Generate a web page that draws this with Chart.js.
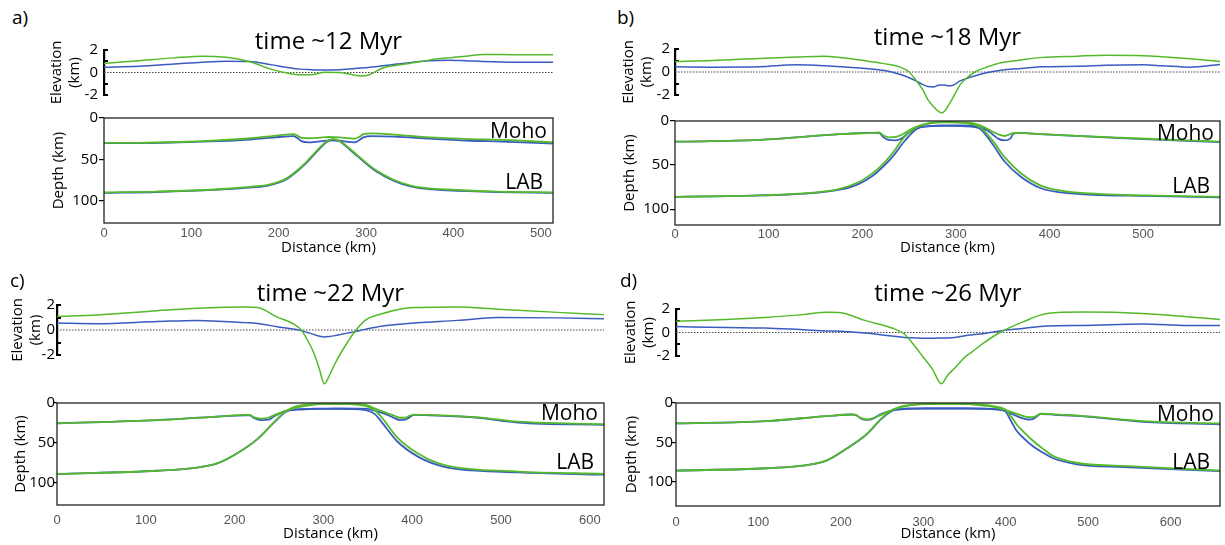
<!DOCTYPE html>
<html>
<head>
<meta charset="utf-8">
<script src="https://cdn.jsdelivr.net/npm/chart.js@4.4.1/dist/chart.umd.min.js"></script>
<style>
  body { margin: 0; background: #fff; width: 1225px; height: 545px; position: relative; overflow: hidden; }
  canvas { position: absolute; }
  .txt { position: absolute; color: #000; white-space: nowrap; line-height: 1; font-family: "Open Sans", "Noto Sans", sans-serif; }
</style>
</head>
<body>
<script>
// ---- panel a (time ~12 Myr) ----
const elevDistA  = [0, 40, 80, 113, 140, 167, 191, 210, 224, 237, 253, 270, 285, 294, 302, 319, 335, 352, 372, 394, 414, 434, 470, 514];
const elevGreenA = [0.8, 1.05, 1.3, 1.45, 1.35, 0.95, 0.3, -0.05, -0.2, -0.2, 0.02, 0.0, -0.2, -0.3, -0.25, 0.4, 0.65, 0.84, 1.1, 1.3, 1.45, 1.6, 1.58, 1.58];
const elevBlueA  = [0.47, 0.55, 0.75, 0.92, 1.0, 0.98, 0.7, 0.45, 0.3, 0.25, 0.22, 0.25, 0.33, 0.4, 0.45, 0.6, 0.75, 0.9, 1.05, 1.1, 1.05, 0.98, 0.92, 0.92];
const mohoDistA  = [0, 40, 86, 130, 168, 200, 217, 221, 226, 234, 245, 258, 270, 280, 287, 292, 297, 307, 332, 373, 420, 455, 514];
const mohoGreenA = [30, 30, 29, 27, 24.5, 21, 19.5, 21, 24, 24.5, 24, 23, 23.5, 24.5, 25, 23, 19.5, 18.5, 20, 23.5, 25.5, 26.5, 29.5];
const mohoBlueA  = [30.5, 30.5, 29.5, 28, 26, 23, 22, 24, 28, 29.5, 28.5, 27, 27.5, 29, 29.5, 27, 23.5, 22, 22.5, 25, 27.5, 28.5, 31];
const labDistA   = [0, 60, 127, 170, 189, 209, 230, 245, 255, 262, 270, 280, 291, 311, 332, 352, 372, 393, 450, 514];
const labGreenA  = [90, 89, 86.5, 83, 80.5, 73, 55, 38, 28, 25.5, 28, 36, 46, 63, 75, 82, 85, 86.5, 89, 90];
const labBlueA   = [90.5, 89.5, 87, 84, 81.5, 74, 56, 39, 29, 26, 28.5, 37, 47, 64, 76, 83, 86, 87.5, 89.5, 90.5];

// ---- panel b (time ~18 Myr) ----
const elevDistB  = [0, 40, 90, 130, 159, 197, 219, 227, 240, 250, 258, 265, 270, 276, 281, 285, 289, 292, 297, 305, 312, 320, 334, 348, 370, 390, 430, 460, 500, 520, 550, 582];
const elevGreenB = [0.92, 1.0, 1.18, 1.3, 1.37, 1.05, 0.78, 0.68, 0.45, 0.0, -0.8, -1.6, -2.4, -3.0, -3.4, -3.55, -3.3, -2.9, -2.2, -1.05, -0.5, 0.0, 0.45, 0.8, 1.05, 1.25, 1.38, 1.45, 1.42, 1.33, 1.15, 0.92];
const elevBlueB  = [0.45, 0.42, 0.45, 0.62, 0.55, 0.35, 0.18, 0.08, -0.2, -0.5, -0.8, -1.1, -1.26, -1.3, -1.15, -1.13, -1.15, -1.2, -1.15, -0.75, -0.55, -0.35, -0.05, 0.15, 0.3, 0.45, 0.5, 0.58, 0.62, 0.55, 0.42, 0.66];
const mohoDistB  = [0, 90, 176, 210, 218, 222, 228, 236, 243, 250, 262, 275, 283, 295, 305, 318, 326, 334, 339, 345, 352, 358, 362, 368, 390, 476, 582];
const mohoGreenB = [23.5, 21.5, 15, 13.5, 13, 16, 18.5, 18, 15, 10.5, 5, 2, 1.2, 1, 1.2, 2.5, 5, 9, 12, 15, 17, 15, 13.5, 13.5, 15, 19, 23.5];
const mohoBlueB  = [23.5, 21.5, 15, 13.5, 13.5, 18, 21.5, 22, 19, 13, 7, 5.5, 5, 5, 5, 5.5, 7, 11, 15, 20, 22, 20, 14, 13.5, 15, 19.5, 24];
const labDistB   = [0, 90, 150, 176, 197, 210, 219, 232, 245, 258, 270, 290, 310, 320, 326, 339, 352, 369, 390, 412, 455, 500, 582];
const labGreenB  = [86, 84.5, 81, 77, 69, 60, 52, 37, 18, 7, 3, 1.5, 2.5, 4.5, 7, 22, 41, 59, 73, 79, 83, 84.5, 86];
const labBlueB   = [86, 84.5, 81.5, 78, 71, 63, 55, 41, 23, 9, 6, 5.5, 6, 7, 9, 26, 46, 63, 76, 81, 84, 85, 86.5];

// ---- panel c (time ~22 Myr) ----
const elevDistC  = [0, 45, 113, 158, 212, 226, 248, 266, 275, 282, 289, 295, 301, 307, 313, 320, 327, 334, 347, 365, 392, 406, 451, 496, 564, 616];
const elevGreenC = [1.08, 1.2, 1.54, 1.74, 1.85, 1.8, 1.03, 0.5, 0.0, -0.8, -1.8, -3.0, -4.3, -3.6, -2.7, -1.8, -1.0, -0.26, 0.77, 1.28, 1.74, 1.8, 1.85, 1.67, 1.41, 1.23];
const elevBlueC  = [0.56, 0.51, 0.68, 0.77, 0.59, 0.52, 0.26, 0.08, -0.05, -0.2, -0.35, -0.48, -0.56, -0.52, -0.45, -0.35, -0.25, -0.15, 0.05, 0.3, 0.5, 0.58, 0.77, 1.0, 0.97, 0.9];
const mohoDistC  = [0, 113, 181, 212, 217, 222, 230, 238, 244, 258, 275, 290, 302, 320, 339, 350, 356, 370, 380, 386, 392, 397, 402, 420, 474, 519, 616];
const mohoGreenC = [25.5, 21.5, 17, 15, 15, 18, 19.5, 18.5, 15.5, 9.5, 4.5, 2, 1.2, 1, 1.2, 3, 6, 12, 16, 18.5, 18.5, 16, 14.5, 15, 18, 23.5, 26.5];
const mohoBlueC  = [25.5, 21.5, 17, 15.5, 15.5, 19, 21.5, 21, 17, 10, 8, 7, 7, 6.8, 7, 7.5, 9, 14, 19, 21.5, 21, 18, 15, 15.5, 18.5, 24.5, 27.5];
const labDistC   = [0, 113, 158, 181, 203, 226, 244, 258, 270, 290, 310, 330, 348, 358, 365, 383, 406, 429, 451, 519, 616];
const labGreenC  = [89, 85, 81, 75.5, 63, 45, 24.5, 10, 4, 1.5, 1, 1.5, 4, 9, 17, 43, 63, 75.5, 81, 86, 89];
const labBlueC   = [89, 85, 81, 75.5, 63, 45, 25, 11, 8, 7.5, 7.3, 7.5, 9, 14, 23, 48, 67, 78, 83, 87, 90];

// ---- panel d (time ~26 Myr) ----
const elevDistD  = [0, 60, 108, 150, 185, 200, 229, 262, 277, 291, 300, 311, 322, 330, 340, 349, 360, 373, 393, 421, 450, 494, 566, 620, 660];
const elevGreenD = [0.95, 1.1, 1.28, 1.5, 1.72, 1.68, 1.03, 0.38, -0.13, -1.28, -2.1, -3.1, -4.36, -3.6, -2.9, -2.2, -1.6, -0.9, 0.0, 0.9, 1.62, 1.74, 1.62, 1.35, 1.1];
const elevBlueD  = [0.51, 0.42, 0.38, 0.25, 0.13, 0.1, -0.05, -0.3, -0.42, -0.46, -0.48, -0.48, -0.47, -0.46, -0.4, -0.3, -0.2, -0.1, 0.13, 0.35, 0.56, 0.6, 0.72, 0.6, 0.59];
const mohoDistD  = [0, 110, 183, 214, 218, 224, 231, 240, 248, 264, 283, 303, 330, 351, 365, 380, 395, 404, 418, 428, 433, 438, 442, 460, 495, 567, 660];
const mohoGreenD = [26, 23, 16.7, 14.6, 15, 19, 21, 19, 15.5, 8, 3, 1.2, 1, 1.2, 2.5, 4, 7.5, 10.4, 15.4, 18, 18, 16, 13.7, 14.5, 16.7, 23, 26];
const mohoBlueD  = [26, 23, 16.7, 14.6, 15, 19.5, 21.5, 19.5, 14.5, 9, 7.5, 7, 7, 7, 7.2, 7.5, 9, 12, 18.5, 21, 20.5, 17, 14, 15, 17, 24, 27];
const labDistD   = [0, 110, 159, 183, 207, 231, 250, 264, 280, 300, 330, 360, 385, 399, 406, 413, 423, 433, 445, 457, 486, 543, 660];
const labGreenD  = [86, 83, 79, 73, 58, 40, 19, 8, 3, 1.5, 1, 1.5, 4, 8, 16, 27, 38, 48, 58, 67, 76, 80, 86];
const labBlueD   = [86, 83, 79, 73, 58, 40, 19.5, 9, 7, 6.8, 6.8, 7, 7.5, 10, 22, 35, 46, 55, 63, 70, 78, 81.5, 86.5];

const panelLetters = ["a)", "b)", "c)", "d)"];
const panelTitles = ["time ~12 Myr", "time ~18 Myr", "time ~22 Myr", "time ~26 Myr"];
const distMax = [514, 582, 616, 660];
const depthMax = [127, 118, 128, 131];

const GREEN = "#54b92b";
const BLUE = "#3a5cbf";
const FONT = '"Open Sans", "Noto Sans", sans-serif';

// pixel layout of each panel (plot area edges etc.)
const layouts = [
  { L: 104, R: 553, elevTop: 45, elevBot: 95, depthTop: 118, depthBot: 223, elevAxisW: 56, elevTickPad: 10, depthAxisW: 54, depthTickLen: 5, depthTickPad: 1, xTickPad: -5, bottomH: 34,
    letter: [12, 17], title: 40, moho: 12, lab: 63 },
  { L: 675, R: 1220, elevTop: 45, elevBot: 95, depthTop: 121, depthBot: 225, elevAxisW: 55, elevTickPad: 9, depthAxisW: 54, depthTickLen: 5, depthTickPad: 1, xTickPad: -6, bottomH: 32,
    letter: [617, 17], title: 36, moho: 11, lab: 64 },
  { L: 57, R: 604, elevTop: 304, elevBot: 355, depthTop: 403, depthBot: 505, elevAxisW: 48, elevTickPad: 6, depthAxisW: 45, depthTickLen: 4, depthTickPad: -2, xTickPad: 0, bottomH: 38,
    letter: [10, 280], title: 292, moho: 9, lab: 58 },
  { L: 676, R: 1220, elevTop: 304, elevBot: 356, depthTop: 403, depthBot: 506, elevAxisW: 54, elevTickPad: 10, depthAxisW: 53, depthTickLen: 4, depthTickPad: -1, xTickPad: 1, bottomH: 37,
    letter: [620, 280], title: 292, moho: 10, lab: 58 }
];

const series = [
  { elevX: elevDistA, elevG: elevGreenA, elevB: elevBlueA, mohoX: mohoDistA, mohoG: mohoGreenA, mohoB: mohoBlueA, labX: labDistA, labG: labGreenA, labB: labBlueA },
  { elevX: elevDistB, elevG: elevGreenB, elevB: elevBlueB, mohoX: mohoDistB, mohoG: mohoGreenB, mohoB: mohoBlueB, labX: labDistB, labG: labGreenB, labB: labBlueB },
  { elevX: elevDistC, elevG: elevGreenC, elevB: elevBlueC, mohoX: mohoDistC, mohoG: mohoGreenC, mohoB: mohoBlueC, labX: labDistC, labG: labGreenC, labB: labBlueC },
  { elevX: elevDistD, elevG: elevGreenD, elevB: elevBlueD, mohoX: mohoDistD, mohoG: mohoGreenD, mohoB: mohoBlueD, labX: labDistD, labG: labGreenD, labB: labBlueD }
];

//box around the depth plot
const framePlugin = {
  id: "frame",
  afterDraw(chart) {
    const { ctx, chartArea: a } = chart;
    ctx.save();
    ctx.strokeStyle = "#222";
    ctx.lineWidth = 1.3;
    ctx.strokeRect(a.left, a.top, a.right - a.left, a.bottom - a.top);
    ctx.restore();
  }
};

function addCanvas(left, top, w, h, z) {
  const c = document.createElement("canvas");
  c.width = w;
  c.height = h;
  c.style.left = left + "px";
  c.style.top = top + "px";
  c.style.zIndex = z;
  document.body.appendChild(c);
  return c;
}

function addText(text, x, y, size, align) {
  const d = document.createElement("div");
  d.className = "txt";
  d.textContent = text;
  d.style.fontSize = size + "px";
  d.style.top = y + "px";
  const tx = align === "center" ? "-50%" : align === "right" ? "-100%" : "0";
  d.style.left = x + "px";
  d.style.transform = "translate(" + tx + ", -50%)";
  d.style.zIndex = 5;
  document.body.appendChild(d);
}

function line(xs, ys, color, width) {
  return {
    data: xs.map((x, i) => ({ x: x, y: ys[i] })),
    borderColor: color,
    borderWidth: width,
    pointRadius: 0,
    fill: false,
    cubicInterpolationMode: "monotone",
    clip: false
  };
}

function baseOptions() {
  return {
    responsive: false,
    maintainAspectRatio: false,
    animation: false,
    devicePixelRatio: 1,
    plugins: { legend: { display: false }, tooltip: { enabled: false } }
  };
}

function elevChart(p, s, xMax) {
  const padTop = 14, padBottom = 64, padRight = 4;
  const w = p.R - p.L, h = p.elevBot - p.elevTop;
  const cv = addCanvas(p.L - p.elevAxisW, p.elevTop - padTop, p.elevAxisW + w + padRight, padTop + h + padBottom, 2);
  const opts = baseOptions();
  opts.layout = { padding: { top: padTop, right: padRight, bottom: padBottom, left: 0 } };
  opts.scales = {
    x: { type: "linear", min: 0, max: xMax, display: false },
    y: {
      min: -2, max: 2,
      afterFit: (sc) => { sc.width = p.elevAxisW; },
      border: { display: true, color: "#000", width: 2.2 },
      grid: {
        drawOnChartArea: false, drawTicks: true, tickLength: -4, lineWidth: 2,
        color: (c) => (c.tick && c.tick.value === 0 ? "rgba(0,0,0,0)" : "#000")
      },
      ticks: {
        stepSize: 1, autoSkip: false, padding: p.elevTickPad, color: "#000",
        font: { family: FONT, size: 15 },
        callback: (v) => (v % 2 === 0 ? v : "")
      },
      title: {
        display: true, text: ["Elevation", "(km)"], color: "#000",
        font: { family: FONT, size: 15, lineHeight: 1.2 }, padding: 0
      }
    }
  };
  new Chart(cv, {
    type: "line",
    data: {
      datasets: [
        line(s.elevX, s.elevG, GREEN, 1.5),
        line(s.elevX, s.elevB, BLUE, 1.5),
        { data: [{ x: 0, y: 0 }, { x: xMax, y: 0 }], borderColor: "#444", borderWidth: 1.2, borderDash: [1.5, 1.5], pointRadius: 0 }
      ]
    },
    options: opts
  });
}

function depthChart(p, s, xMax, yMax) {
  const padTop = 14, padRight = 6;
  const w = p.R - p.L, h = p.depthBot - p.depthTop;
  const cv = addCanvas(p.L - p.depthAxisW, p.depthTop - padTop, p.depthAxisW + w + padRight, padTop + h + p.bottomH, 1);
  const opts = baseOptions();
  opts.layout = { padding: { top: padTop, right: padRight, bottom: 0, left: 0 } };
  opts.scales = {
    x: {
      type: "linear", min: 0, max: xMax,
      afterFit: (sc) => { sc.height = p.bottomH; },
      border: { display: false },
      grid: { display: false },
      ticks: {
        stepSize: 100, includeBounds: false, autoSkip: false, maxRotation: 0,
        padding: p.xTickPad, color: "#555",
        font: { family: '"Liberation Sans", Arial, sans-serif', size: 13 }
      },
      title: {
        display: true, text: "Distance (km)", color: "#000",
        font: { family: FONT, size: 15, lineHeight: 1.2 }, padding: 0
      }
    },
    y: {
      reverse: true, min: 0, max: yMax,
      afterFit: (sc) => { sc.width = p.depthAxisW; },
      border: { display: false },
      grid: { drawOnChartArea: false, drawTicks: true, tickLength: p.depthTickLen, color: "#000", lineWidth: 1.2 },
      ticks: {
        stepSize: 50, includeBounds: false, autoSkip: false, padding: p.depthTickPad, color: "#000",
        font: { family: FONT, size: 15 }
      },
      title: {
        display: true, text: "Depth (km)", color: "#000",
        font: { family: FONT, size: 15, lineHeight: 1.2 }, padding: 0
      }
    }
  };
  new Chart(cv, {
    type: "line",
    data: {
      datasets: [
        line(s.mohoX, s.mohoG, GREEN, 1.8),
        line(s.labX, s.labG, GREEN, 1.8),
        line(s.mohoX, s.mohoB, BLUE, 1.8),
        line(s.labX, s.labB, BLUE, 1.8)
      ]
    },
    options: opts,
    plugins: [framePlugin]
  });
}

layouts.forEach((p, i) => {
  elevChart(p, series[i], distMax[i]);
  depthChart(p, series[i], distMax[i], depthMax[i]);
  addText(panelLetters[i], p.letter[0], p.letter[1], 19, "left");
  addText(panelTitles[i], (p.L + p.R) / 2, p.title, 24, "center");
  addText("Moho", p.R - 6, p.depthTop + p.moho, 21, "right");
  addText("LAB", p.R - 10, p.depthTop + p.lab, 21, "right");
});
</script>
</body>
</html>
